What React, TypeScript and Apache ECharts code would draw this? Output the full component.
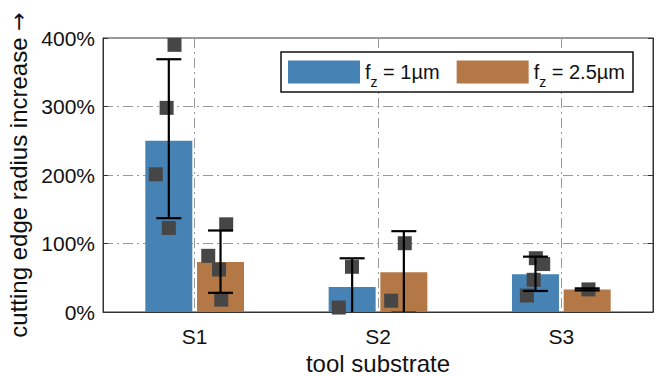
import React, { useEffect, useRef } from "react";
import * as echarts from "echarts";

const categories = ["S1", "S2", "S3"];
const seriesNames = ["f_z = 1µm", "f_z = 2.5µm"];
const meanBlue = [250, 36.5, 55];
const meanOrange = [73, 58, 33];
const lowBlue = [137, -5.5, 30.7];
const highBlue = [369, 78.4, 80.8];
const lowOrange = [28, -1, 31.5];
const highOrange = [119, 118, 34.5];
// individual measurements: [category index, jitter (fraction of category), value %]
const pointsBlue = [
  [0, -0.11, 390], [0, -0.153, 298], [0, -0.212, 201], [0, -0.141, 122.6],
  [1, -0.142, 66], [1, -0.214, 6.5],
  [2, -0.139, 78.5], [2, -0.099, 70], [2, -0.151, 47], [2, -0.188, 24],
];
const pointsOrange = [
  [0, 0.172, 128], [0, 0.074, 82], [0, 0.133, 62], [0, 0.145, 18],
  [1, 0.146, 100.4], [1, 0.072, 16.5],
  [2, 0.148, 33],
];
const yMin = 0;
const yMax = 400;
const yStep = 100;

const FONT = "'Liberation Sans', Arial, Helvetica, sans-serif";
const BLUE = "#4682b4";
const ORANGE = "#b47846";
const BAR_W = 47;
const GAP = 0.1;
const GRID_LINE = { color: "#999999", width: 1, type: [10, 4, 2, 4] as any };

function errorSeries(lo: number[], hi: number[], sign: number) {
  return {
    type: "custom",
    xAxisIndex: 0,
    yAxisIndex: 0,
    z: 6,
    clip: true,
    silent: true,
    data: categories.map((_, i) => [i, lo[i], hi[i]]),
    encode: { x: 0, y: [1, 2] },
    renderItem: (params: any, api: any) => {
      const i = api.value(0);
      const a = api.coord([i, api.value(1)]);
      const b = api.coord([i, api.value(2)]);
      const x = a[0] + (sign * BAR_W * (1 + GAP)) / 2;
      const cap = 12.5;
      const st = { stroke: "#000", lineWidth: 2.2 };
      return {
        type: "group",
        children: [
          { type: "line", shape: { x1: x, y1: a[1], x2: x, y2: b[1] }, style: st },
          { type: "line", shape: { x1: x - cap, y1: a[1], x2: x + cap, y2: a[1] }, style: st },
          { type: "line", shape: { x1: x - cap, y1: b[1], x2: x + cap, y2: b[1] }, style: st },
        ],
      };
    },
  };
}

function pointSeries(pts: number[][]) {
  return {
    type: "scatter",
    xAxisIndex: 1,
    yAxisIndex: 0,
    z: 4,
    symbol: "rect",
    symbolSize: 14,
    itemStyle: { color: "#464646", opacity: 1 },
    silent: true,
    data: pts.map((p) => [p[0] + 0.5 + p[1], p[2]]),
  };
}

export default function App() {
  const ref = useRef<HTMLDivElement>(null);
  useEffect(() => {
    document.body.style.margin = "0";
    const chart = echarts.init(ref.current!, null, { renderer: "svg" });
    chart.setOption({
      animation: false,
      backgroundColor: "#fff",
      textStyle: { fontFamily: FONT },
      grid: {
        left: 103,
        right: 8,
        top: 38,
        bottom: 64,
        show: true,
        borderColor: "#333",
        borderWidth: 1,
        backgroundColor: "transparent",
        containLabel: false,
        outerBoundsMode: "none",
      },
      legend: {
        data: seriesNames,
        left: 281,
        top: 52,
        orient: "horizontal",
        icon: "rect",
        itemWidth: 72,
        itemHeight: 23,
        itemGap: 17,
        padding: [3, 8, 3, 7],
        backgroundColor: "#fff",
        borderColor: "#111",
        borderWidth: 1.5,
        borderRadius: 0,
        formatter: (name: string) => "{n|f}{s|z}{n|" + name.slice(3) + "}",
        textStyle: {
          fontFamily: FONT,
          rich: {
            n: { fontSize: 20, lineHeight: 24, color: "#111", fontFamily: FONT },
            s: { fontSize: 14, lineHeight: 14, padding: [20, 0, 0, 0], color: "#111", fontFamily: FONT },
          },
        },
      },
      xAxis: [
        {
          type: "category",
          data: categories,
          axisLine: { lineStyle: { color: "#333", width: 1 } },
          axisTick: { show: false },
          axisLabel: { fontSize: 21, color: "#111", margin: 14, fontFamily: FONT },
          splitLine: { show: true, alignWithLabel: true, lineStyle: GRID_LINE },
          name: "tool substrate",
          nameLocation: "middle",
          nameGap: 35,
          nameTextStyle: { fontSize: 24, color: "#111", fontFamily: FONT },
        },
        {
          type: "value",
          min: 0,
          max: categories.length,
          show: false,
          splitLine: { show: false },
        },
      ],
      yAxis: [
        {
          type: "value",
          min: yMin,
          max: yMax,
          interval: yStep,
          axisLine: { show: true, lineStyle: { color: "#333", width: 1 } },
          axisTick: { show: true, inside: true, length: 5, lineStyle: { color: "#333" } },
          axisLabel: { formatter: "{value}%", fontSize: 21, color: "#111", margin: 8, fontFamily: FONT },
          splitLine: { show: true, lineStyle: GRID_LINE },
          name: "{t|cutting edge radius increase }{a|→}",
          nameLocation: "middle",
          nameGap: 66,
          nameTextStyle: {
            fontSize: 24,
            color: "#111",
            fontFamily: FONT,
            rich: {
              t: { fontSize: 24, color: "#111", fontFamily: FONT },
              a: { fontSize: 22, color: "#111", fontFamily: "'DejaVu Sans', sans-serif" },
            },
          },
        },
        {
          type: "value",
          position: "right",
          min: yMin,
          max: yMax,
          interval: yStep,
          axisLine: { show: true, lineStyle: { color: "#333", width: 1 } },
          axisTick: { show: true, inside: true, length: 5, lineStyle: { color: "#333" } },
          axisLabel: { show: false },
          splitLine: { show: false },
        },
      ],
      series: [
        {
          name: seriesNames[0],
          type: "bar",
          data: meanBlue,
          barWidth: BAR_W,
          barGap: GAP * 100 + "%",
          itemStyle: { color: BLUE },
          z: 2,
        },
        {
          name: seriesNames[1],
          type: "bar",
          data: meanOrange,
          barWidth: BAR_W,
          barGap: GAP * 100 + "%",
          itemStyle: { color: ORANGE },
          z: 2,
        },
        pointSeries(pointsBlue),
        pointSeries(pointsOrange),
        errorSeries(lowBlue, highBlue, -1),
        errorSeries(lowOrange, highOrange, 1),
      ],
    });
    return () => chart.dispose();
  }, []);
  return (
    <div
      ref={ref}
      style={{ position: "fixed", left: 0, top: 0, width: 661, height: 376 }}
    />
  );
}
